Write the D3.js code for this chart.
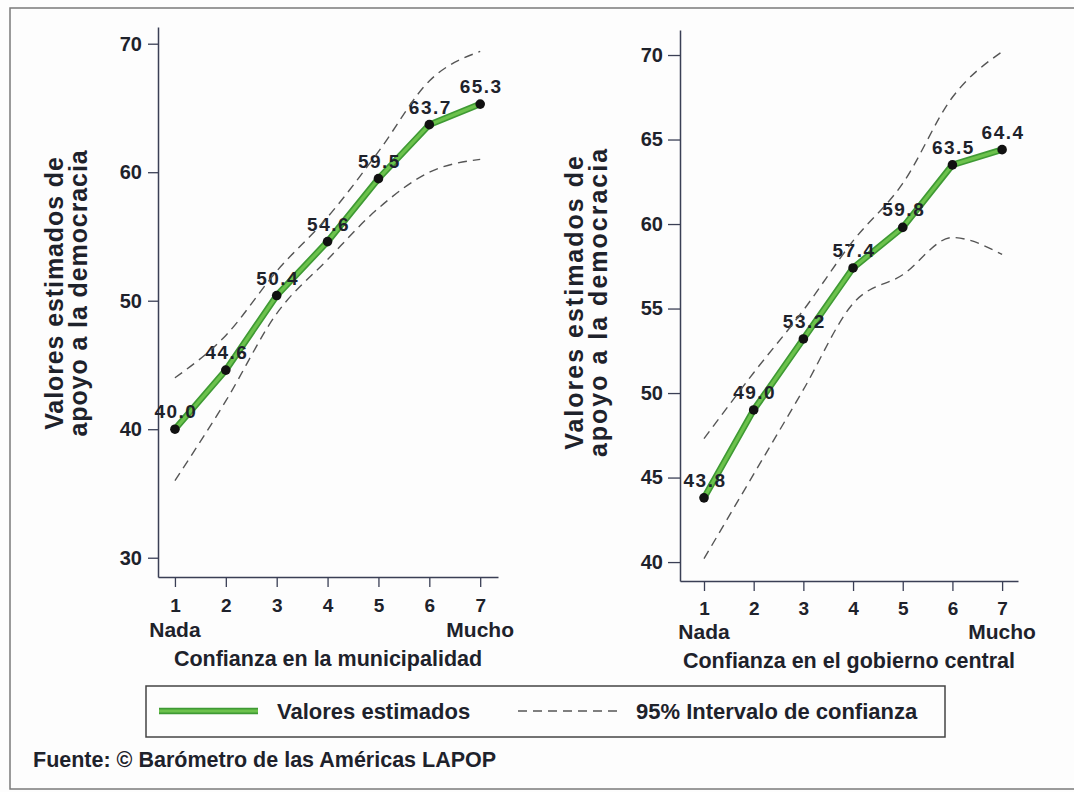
<!DOCTYPE html>
<html>
<head>
<meta charset="utf-8">
<script src="https://cdn.jsdelivr.net/npm/d3@7"></script>
<style>
  html, body { margin: 0; padding: 0; background: #fdfdfd; }
  svg { display: block; }
  text { font-family: "Liberation Sans", Arial, Helvetica, sans-serif; font-weight: bold; fill: #1e222b; }
</style>
</head>
<body>
<svg id="chart" width="1074" height="792"></svg>
<script>
// ---- data ----
const levels = [1, 2, 3, 4, 5, 6, 7];
const levelEndLabels = ["Nada", "", "", "", "", "", "Mucho"];

const muniEstimate = [40.0, 44.6, 50.4, 54.6, 59.5, 63.7, 65.3];
const muniUpper    = [44.0, 47.3, 52.3, 56.5, 61.6, 67.1, 69.4];
const muniLower    = [36.0, 42.2, 49.0, 53.2, 57.2, 60.0, 61.0];
const muniTicks    = [30, 40, 50, 60, 70];

const govEstimate  = [43.8, 49.0, 53.2, 57.4, 59.8, 63.5, 64.4];
const govUpper     = [47.3, 51.2, 54.9, 59.0, 62.4, 67.5, 70.2];
const govLower     = [40.2, 45.2, 50.2, 55.3, 57.0, 59.2, 58.2];
const govTicks     = [40, 45, 50, 55, 60, 65, 70];

const yTitleLines  = ["Valores estimados de", "apoyo a la democracia"];
const muniXTitle   = "Confianza en la municipalidad";
const govXTitle    = "Confianza en el gobierno central";
const legendLabels = ["Valores estimados", "95% Intervalo de confianza"];
const sourceNote   = "Fuente: © Barómetro de las Américas LAPOP";

// ---- drawing ----
const svg = d3.select("#chart");
const ink = "#1e222b";

// outer frame
svg.append("rect").attr("x", 10).attr("y", 8).attr("width", 1090).attr("height", 781)
  .attr("fill", "#fdfdfd").attr("stroke", "#7a7a7a").attr("stroke-width", 1.5);

function panel(cfg) {
  const g = svg.append("g");
  const x = d3.scaleLinear().domain(cfg.xDomain).range(cfg.xRange);
  const y = d3.scaleLinear().domain(cfg.yDomain).range(cfg.yRange);
  const axisY = cfg.yRange[0];
  const axisX = cfg.xRange[0];

  // y axis
  const ya = g.append("g").attr("transform", `translate(${axisX},0)`)
    .call(d3.axisLeft(y).tickValues(cfg.ticks).tickFormat(d3.format("d"))
      .tickSize(cfg.yTickSize).tickSizeOuter(0).tickPadding(cfg.yTickPad));
  ya.select(".domain").attr("stroke", "#3a3f55").attr("stroke-width", 1.5);
  ya.selectAll(".tick line").attr("stroke", "#3a3f55").attr("stroke-width", 1.3);
  ya.selectAll(".tick text").style("font-size", "20px").attr("fill", ink)
    .style("font-family", '"Liberation Sans", Arial, sans-serif').style("font-weight", "bold");

  // x axis
  const xa = g.append("g").attr("transform", `translate(0,${axisY})`)
    .call(d3.axisBottom(x).tickValues(levels).tickFormat(d3.format("d"))
      .tickSize(10).tickSizeOuter(0).tickPadding(cfg.xTickPad));
  xa.select(".domain").attr("stroke", "#3a3f55").attr("stroke-width", 1.5);
  xa.selectAll(".tick line").attr("stroke", "#3a3f55").attr("stroke-width", 1.3);
  xa.selectAll(".tick text").style("font-size", "19px").attr("fill", ink)
    .style("font-family", '"Liberation Sans", Arial, sans-serif').style("font-weight", "bold");

  // Nada / Mucho
  g.selectAll("text.end").data(levels.filter((d, i) => levelEndLabels[i]))
    .enter().append("text").attr("class", "end")
    .attr("x", d => x(d)).attr("y", axisY + cfg.endDy)
    .attr("text-anchor", "middle").style("font-size", "21px")
    .text(d => levelEndLabels[levels.indexOf(d)]);

  // x title
  g.append("text").attr("x", (cfg.xRange[0] + cfg.xRange[1]) / 2).attr("y", cfg.xTitleY)
    .attr("text-anchor", "middle").style("font-size", "21.5px").text(cfg.xTitle);

  // y title (two lines)
  yTitleLines.forEach((t, i) => {
    g.append("text")
      .attr("transform", `translate(${cfg.yTitleX[i]},${cfg.yTitleCy}) rotate(-90)`)
      .attr("text-anchor", "middle").style("font-size", "25px")
      .style("letter-spacing", cfg.yTitleSpacing + "px").text(t);
  });

  const pts = levels.map((d, i) => ({ l: d, est: cfg.est[i], up: cfg.up[i], lo: cfg.lo[i] }));

  // estimate line (green)
  const lineEst = d3.line().x(d => x(d.l)).y(d => y(d.est));
  g.append("path").datum(pts).attr("d", lineEst).attr("fill", "none")
    .attr("stroke", "#3f9a34").attr("stroke-width", 6.5).attr("stroke-linejoin", "round");
  g.append("path").datum(pts).attr("d", lineEst).attr("fill", "none")
    .attr("stroke", "#6cc24c").attr("stroke-width", 3.2).attr("stroke-linejoin", "round");

  // labels
  g.selectAll("text.val").data(pts).enter().append("text").attr("class", "val")
    .attr("x", d => x(d.l) + 1).attr("y", d => y(d.est) - 11)
    .attr("text-anchor", "middle").style("font-size", "19px").style("letter-spacing", "1.5px")
    .attr("fill", "#1d2a2e").text(d => d.est.toFixed(1));

  // CI dashed lines
  const ciStyle = sel => sel.attr("fill", "none").attr("stroke", "#555")
    .attr("stroke-width", 1.4).attr("stroke-dasharray", "9,6");
  g.append("path").datum(pts).attr("d", d3.line().curve(d3.curveMonotoneX).x(d => x(d.l)).y(d => y(d.up))).call(ciStyle);
  g.append("path").datum(pts).attr("d", d3.line().curve(d3.curveMonotoneX).x(d => x(d.l)).y(d => y(d.lo))).call(ciStyle);

  // points
  g.selectAll("circle").data(pts).enter().append("circle")
    .attr("cx", d => x(d.l)).attr("cy", d => y(d.est)).attr("r", 4.8).attr("fill", "#111");
}

panel({
  xDomain: [0.667, 7.35], xRange: [158, 498],
  yDomain: [28.5, 71.3], yRange: [577, 27],
  ticks: muniTicks, yTickSize: 10, yTickPad: 6, xTickPad: 12,
  est: muniEstimate, up: muniUpper, lo: muniLower,
  endDy: 60, xTitle: muniXTitle, xTitleY: 666,
  yTitleX: [63, 87], yTitleCy: 293, yTitleSpacing: 0.9
});

panel({
  xDomain: [0.517, 7.32], xRange: [680, 1018],
  yDomain: [38.88, 71.48], yRange: [581, 30],
  ticks: govTicks, yTickSize: 12, yTickPad: 5, xTickPad: 11,
  est: govEstimate, up: govUpper, lo: govLower,
  endDy: 58, xTitle: govXTitle, xTitleY: 668,
  yTitleX: [583, 607], yTitleCy: 302, yTitleSpacing: 2.0
});

// legend
const lg = svg.append("g");
lg.append("rect").attr("x", 146).attr("y", 686).attr("width", 799).attr("height", 51)
  .attr("fill", "#fdfdfd").attr("stroke", "#444").attr("stroke-width", 1.5);
lg.append("line").attr("x1", 159).attr("x2", 258).attr("y1", 711).attr("y2", 711)
  .attr("stroke", "#3f9a34").attr("stroke-width", 6.5);
lg.append("line").attr("x1", 159).attr("x2", 258).attr("y1", 711).attr("y2", 711)
  .attr("stroke", "#6cc24c").attr("stroke-width", 3.2);
lg.append("text").attr("x", 277).attr("y", 719).style("font-size", "22px").text(legendLabels[0]);
lg.append("line").attr("x1", 518).attr("x2", 622).attr("y1", 711).attr("y2", 711)
  .attr("stroke", "#555").attr("stroke-width", 1.3).attr("stroke-dasharray", "9,6");
lg.append("text").attr("x", 636).attr("y", 719).style("font-size", "22px").text(legendLabels[1]);

// source
svg.append("text").attr("x", 33).attr("y", 767).style("font-size", "21.5px").text(sourceNote);
</script>
</body>
</html>
